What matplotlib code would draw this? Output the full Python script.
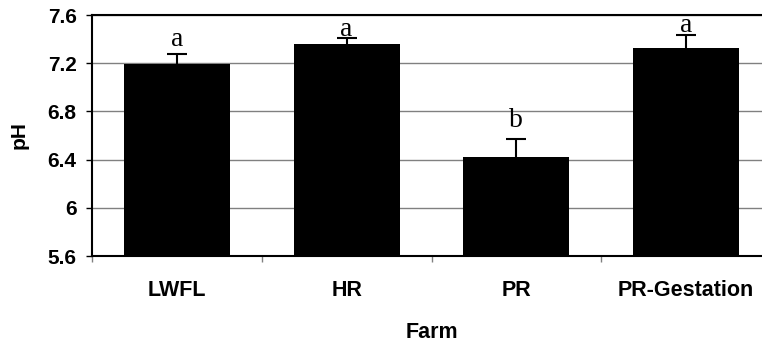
import numpy as np
import matplotlib
matplotlib.use("Agg")
import matplotlib.pyplot as plt

farms = ["LWFL", "HR", "PR", "PR-Gestation"]
ph = [7.19, 7.36, 6.42, 7.33]
err = [0.09, 0.05, 0.15, 0.10]
letters = ["a", "a", "b", "a"]
letter_y = [7.34, 7.425, 6.67, 7.455]

yticks = [5.6, 6.0, 6.4, 6.8, 7.2, 7.6]
ytick_labels = ["5.6", "6", "6.4", "6.8", "7.2", "7.6"]

plt.rcParams['font.family'] = ['Liberation Sans', 'DejaVu Sans']

fig = plt.figure(figsize=(7.62, 3.47), dpi=100)
W, H = 762, 347
left, right, top, bottom = 92, 771, 15, 256
ax = fig.add_axes([left / W, (H - bottom) / H, (right - left) / W, (bottom - top) / H])

x = np.arange(len(farms))
ax.bar(x, ph, width=0.625, color="black", zorder=3)
eb = ax.errorbar(x, ph, yerr=[np.zeros(len(err)), err], fmt="none", ecolor="black",
                 elinewidth=1.5, capsize=7, capthick=1.5, zorder=2)
# only the upper cap
eb[1][0].remove()

for xi, lab, ly in zip(x, letters, letter_y):
    ax.text(xi, ly, lab, ha="center", va="baseline", fontsize=20,
            family="Liberation Serif", zorder=5)

ax.set_ylim(5.6, 7.6)
ax.set_xlim(-0.5, 3.5)
ax.set_yticks(yticks)
ax.set_yticklabels(ytick_labels, fontsize=15, fontweight="bold")
ax.yaxis.grid(True, color="#808080", linewidth=1, zorder=0)
ax.tick_params(axis="y", length=4, width=1, pad=7, color="black")

# boundaries ticks, centred labels
ax.set_xticks(np.arange(-0.5, 3.6, 1.0))
ax.set_xticklabels([])
ax.tick_params(axis="x", which="major", length=4, width=1, color="#808080")
ax.set_xticks(x, minor=True)
ax.set_xticklabels(farms, minor=True, fontsize=15.5, fontweight="bold")
ax.tick_params(axis="x", which="minor", length=0, pad=17)

for side in ["top", "left", "bottom"]:
    ax.spines[side].set_linewidth(1.5)
    ax.spines[side].set_color("black")
ax.spines["right"].set_visible(False)

ax.set_xlabel("Farm", fontsize=15.5, fontweight="bold")
ax.xaxis.set_label_coords(0.5, -0.275)
ax.set_ylabel("pH", fontsize=15, fontweight="bold")
ax.yaxis.set_label_coords(-0.094, 0.5)

fig.savefig("out.png", dpi=100)
